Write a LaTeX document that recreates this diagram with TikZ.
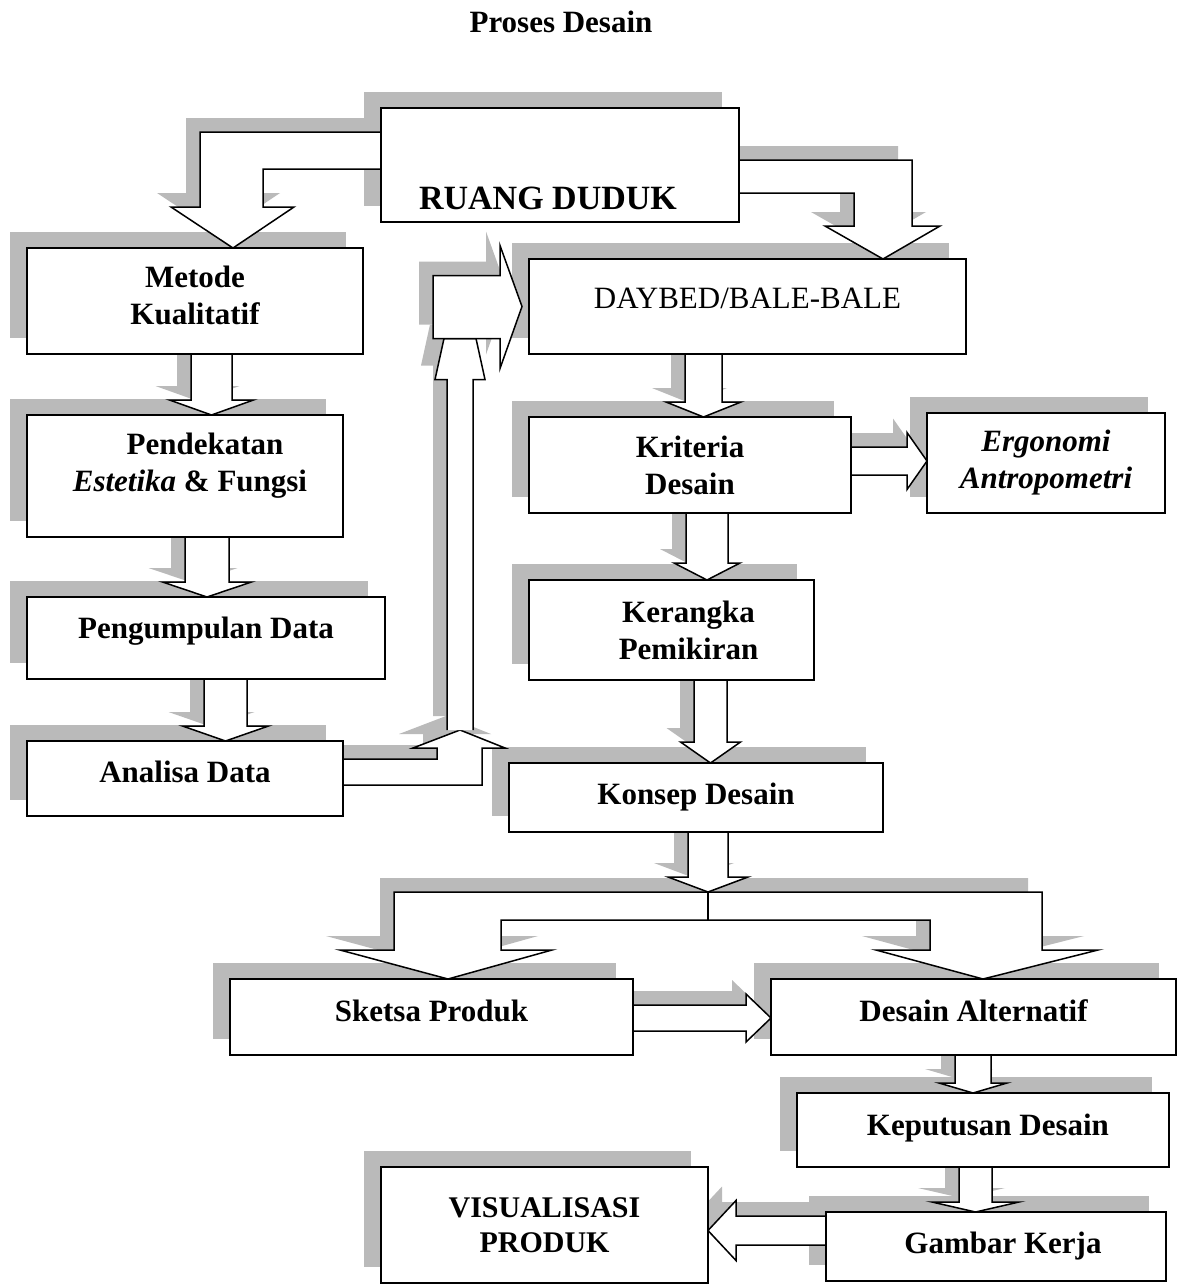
\documentclass[tikz,border=0pt]{standalone}
\usepackage{fontspec}
\setmainfont{Liberation Serif}
\usetikzlibrary{calc}
\pgfdeclarelayer{bgl}
\pgfdeclarelayer{shadowl}
\pgfdeclarelayer{arrl}
\pgfsetlayers{bgl,shadowl,arrl,main}

\tikzset{
  box/.style={draw, line width=1.6pt, fill=white, rectangle, inner sep=0pt, outer sep=0pt,
    align=center, font=\fontsize{31}{37}\selectfont\bfseries},
  arrbody/.style={draw, fill=white, line width=1.5pt, line join=miter},
  arrshadow/.style={fill=black!27},
  bshadow/.style={fill=black!27},
  pt0/.style={inner sep=0pt, outer sep=0pt, minimum size=0pt},
  tv/.style={text height=22pt, text depth=#1}
}

% all computed coordinates are canvas dimensions (picture y runs downwards, canvas y upwards)
% down block arrow: style, offset, from, to, centre x, half shaft, half head, head length
\newcommand\dnpath[8]{%
  \path[#1] let \p1=(#3.south), \p2=(#4.north),
     \n1={\y1+#2}, \n2={\y2+#2}, \n3={#5-#2} in
    ({(\n3-#6)*1pt},{\n1*1pt}) -- ({(\n3-#6)*1pt},{(\n2+#8)*1pt}) -- ({(\n3-#7)*1pt},{(\n2+#8)*1pt})
    -- ({\n3*1pt},{\n2*1pt}) -- ({(\n3+#7)*1pt},{(\n2+#8)*1pt}) -- ({(\n3+#6)*1pt},{(\n2+#8)*1pt})
    -- ({(\n3+#6)*1pt},{\n1*1pt});}
\newcommand\rtpath[8]{%
  \path[#1] let \p1=(#3.east), \p2=(#4.west), \n1={\x1-#2}, \n2={\x2-#2}, \n3={#5-#2} in
   ({\n1},{\n3-#6}) -- ({\n2-#8},{\n3-#6}) -- ({\n2-#8},{\n3-#7}) -- ({\n2},{\n3})
   -- ({\n2-#8},{\n3+#7}) -- ({\n2-#8},{\n3+#6}) -- ({\n1},{\n3+#6});}
\newcommand\ltpath[8]{%
  \path[#1] let \p1=(#3.west), \p2=(#4.east), \n1={\x1-#2}, \n2={\x2-#2}, \n3={#5-#2} in
   ({\n1},{\n3-#6}) -- ({\n2+#8},{\n3-#6}) -- ({\n2+#8},{\n3-#7}) -- ({\n2},{\n3})
   -- ({\n2+#8},{\n3+#7}) -- ({\n2+#8},{\n3+#6}) -- ({\n1},{\n3+#6});}
\newcommand\dnarr[6]{%
  \begin{pgfonlayer}{shadowl}\dnpath{arrshadow}{14}{#1}{#2}{#3}{#4}{#5}{#6}\end{pgfonlayer}%
  \begin{pgfonlayer}{arrl}\dnpath{arrbody}{0}{#1}{#2}{#3}{#4}{#5}{#6}\end{pgfonlayer}}
\newcommand\rtarr[6]{%
  \begin{pgfonlayer}{shadowl}\rtpath{arrshadow}{14}{#1}{#2}{#3}{#4}{#5}{#6}\end{pgfonlayer}%
  \begin{pgfonlayer}{arrl}\rtpath{arrbody}{0}{#1}{#2}{#3}{#4}{#5}{#6}\end{pgfonlayer}}
\newcommand\ltarr[6]{%
  \begin{pgfonlayer}{shadowl}\ltpath{arrshadow}{14}{#1}{#2}{#3}{#4}{#5}{#6}\end{pgfonlayer}%
  \begin{pgfonlayer}{arrl}\ltpath{arrbody}{0}{#1}{#2}{#3}{#4}{#5}{#6}\end{pgfonlayer}}
\newcommand\bshad[1]{%
  \begin{pgfonlayer}{shadowl}\fill[bshadow] ($(#1.south west)+(-17,-16)$) rectangle ($(#1.north east)+(-17,-16)$);\end{pgfonlayer}}

% complex arrows (canvas coordinates)
\newcommand\ruangmetodepath[2]{%
  \path[#1] let \p1=(ruang.west), \p2=(metode.north), \n1={\x1-#2}, \n2={\y1+#2}, \n3={\y2+#2}, \n4={#2} in
   ({\n1*1pt},{(\n2+33)*1pt}) -- ({(200-\n4)*1pt},{(\n2+33)*1pt}) -- ({(200-\n4)*1pt},{(\n3+41)*1pt})
   -- ({(171-\n4)*1pt},{(\n3+41)*1pt}) -- ({(233-\n4)*1pt},{\n3*1pt}) -- ({(294-\n4)*1pt},{(\n3+41)*1pt})
   -- ({(263-\n4)*1pt},{(\n3+41)*1pt}) -- ({(263-\n4)*1pt},{(\n2-4)*1pt}) -- ({\n1*1pt},{(\n2-4)*1pt});}
\newcommand\ruangdaybedpath[2]{%
  \path[#1] let \p1=(ruang.east), \p2=(daybed.north), \n1={\x1-#2}, \n2={\y1+#2}, \n3={\y2+#2}, \n4={#2} in
   ({\n1*1pt},{(\n2+5)*1pt}) -- ({(912-\n4)*1pt},{(\n2+5)*1pt}) -- ({(912-\n4)*1pt},{(\n3+33)*1pt})
   -- ({(940-\n4)*1pt},{(\n3+33)*1pt}) -- ({(883-\n4)*1pt},{\n3*1pt}) -- ({(825-\n4)*1pt},{(\n3+33)*1pt})
   -- ({(854-\n4)*1pt},{(\n3+33)*1pt}) -- ({(854-\n4)*1pt},{(\n2-28)*1pt}) -- ({\n1*1pt},{(\n2-28)*1pt});}
\newcommand\analisapath[2]{%
  \path[#1] let \p1=(analisa.east), \p2=(j1), \n1={\x1-#2}, \n2={\y1+#2}, \n3={\x2-#2}, \n4={\y2+#2} in
   ({\n1*1pt},{(\n2+19.5)*1pt}) -- ({(\n3-23)*1pt},{(\n2+19.5)*1pt}) -- ({(\n3-23)*1pt},{(\n4-18)*1pt})
   -- ({(\n3-47)*1pt},{(\n4-18)*1pt}) -- ({\n3*1pt},{\n4*1pt}) -- ({(\n3+45)*1pt},{(\n4-18)*1pt})
   -- ({(\n3+22)*1pt},{(\n4-18)*1pt}) -- ({(\n3+22)*1pt},{(\n2-6.5)*1pt}) -- ({\n1*1pt},{(\n2-6.5)*1pt});}
\newcommand\vertpath[2]{%
  \path[#1] let \p1=(j1), \p2=(j2), \n1={\x1-#2}, \n2={\y1+#2}, \n4={\y2+#2} in
   ({(\n1-13)*1pt},{\n2*1pt}) -- ({(\n1-13)*1pt},{(\n4-41)*1pt}) -- ({(\n1-25)*1pt},{(\n4-41)*1pt})
   -- ({(\n1-16)*1pt},{\n4*1pt}) -- ({(\n1+16)*1pt},{\n4*1pt}) -- ({(\n1+25)*1pt},{(\n4-41)*1pt})
   -- ({(\n1+13)*1pt},{(\n4-41)*1pt}) -- ({(\n1+13)*1pt},{\n2*1pt});}
\newcommand\topdaypath[2]{%
  \path[#1] let \p1=(j3), \p2=(daybed.west), \n1={\x1-#2}, \n2={\x2-7-#2}, \n3={\y2+#2} in
   ({\n1*1pt},{(\n3+31)*1pt}) -- ({(\n2-22)*1pt},{(\n3+31)*1pt}) -- ({(\n2-22)*1pt},{(\n3+61)*1pt})
   -- ({\n2*1pt},{\n3*1pt}) -- ({(\n2-22)*1pt},{(\n3-62)*1pt}) -- ({(\n2-22)*1pt},{(\n3-32)*1pt})
   -- ({\n1*1pt},{(\n3-32)*1pt}) -- cycle;}
\newcommand\splitpath[2]{%
  \path[#1] let \p1=(split), \p2=(sketsa.north), \p3=(desalt.north), \n2={\y1+#2},
     \n3={\y2+#2}, \n5={\y3+#2}, \n4={#2} in
   ({(394-\n4)*1pt},{\n2*1pt}) -- ({(1042-\n4)*1pt},{\n2*1pt}) -- ({(1042-\n4)*1pt},{(\n5+29)*1pt})
   -- ({(1098-\n4)*1pt},{(\n5+29)*1pt}) -- ({(983-\n4)*1pt},{\n5*1pt}) -- ({(876-\n4)*1pt},{(\n5+29)*1pt})
   -- ({(930-\n4)*1pt},{(\n5+29)*1pt}) -- ({(930-\n4)*1pt},{(\n2-28)*1pt}) -- ({(501-\n4)*1pt},{(\n2-28)*1pt})
   -- ({(501-\n4)*1pt},{(\n3+29)*1pt}) -- ({(552-\n4)*1pt},{(\n3+29)*1pt}) -- ({(448-\n4)*1pt},{\n3*1pt})
   -- ({(340-\n4)*1pt},{(\n3+29)*1pt}) -- ({(394-\n4)*1pt},{(\n3+29)*1pt}) -- cycle;}
\newcommand\twice[1]{%
  \begin{pgfonlayer}{shadowl}#1{arrshadow}{14}\end{pgfonlayer}%
  \begin{pgfonlayer}{arrl}#1{arrbody}{0}\end{pgfonlayer}}

\begin{document}
\begin{tikzpicture}[x=1pt,y=-1pt]
\begin{pgfonlayer}{bgl}
  \fill[white] (0,0) rectangle (1183,1285);
\end{pgfonlayer}
\useasboundingbox (0,0) rectangle (1183,1285);

\node[font=\fontsize{31}{37}\selectfont\bfseries] (title) at (561,22) {Proses Desain};

\node[box, minimum width=358pt, minimum height=114pt, font=\fontsize{34}{40}\selectfont\bfseries,
      text height=88pt, text depth=0pt] (ruang) at (560,165) {RUANG DUDUK\hspace*{24pt}};
\node[box, minimum width=336pt, minimum height=106pt, text height=46pt, text depth=0pt] (metode) at (195,301) {Metode\\Kualitatif};
\node[box, minimum width=316pt, minimum height=122pt, text height=30pt, text depth=0pt] (pend) at (185,476)
      {\hspace*{40pt}Pendekatan\\\hspace*{10pt}\textit{Estetika} \& Fungsi};
\node[box, minimum width=358pt, minimum height=82pt, tv=22pt] (peng) at (206,638) {Pengumpulan Data};
\node[box, minimum width=316pt, minimum height=75pt, tv=15pt] (analisa) at (185,778.5) {Analisa Data};
\node[box, minimum width=437pt, minimum height=95pt, font=\fontsize{31}{37}\selectfont,
      text height=20pt, text depth=17pt] (daybed) at (747.5,306.5) {DAYBED/BALE-BALE};
\node[box, minimum width=322pt, minimum height=96pt] (kriteria) at (690,465) {Kriteria\\Desain};
\node[box, minimum width=238pt, minimum height=100pt] (ergo) at (1046,463) {\textit{Ergonomi}\\\textit{Antropometri}};
\node[box, minimum width=285pt, minimum height=100pt] (kerangka) at (671.5,630)
      {\hspace*{34pt}Kerangka\\\hspace*{34pt}Pemikiran};
\node[box, minimum width=374pt, minimum height=69pt] (konsep) at (696,797.5) {Konsep Desain};
\node[box, minimum width=403pt, minimum height=76pt, tv=14pt] (sketsa) at (431.5,1017) {Sketsa Produk};
\node[box, minimum width=405pt, minimum height=76pt, tv=14pt] (desalt) at (973.5,1017) {Desain Alternatif};
\node[box, minimum width=372pt, minimum height=74pt, tv=12pt] (kep) at (983,1130) {\hspace*{10pt}Keputusan Desain};
\node[box, minimum width=340pt, minimum height=69pt] (gambar) at (996,1246.5) {\hspace*{14pt}Gambar Kerja};
\node[box, minimum width=327pt, minimum height=116pt, font=\fontsize{30}{35}\selectfont\bfseries]
      (vis) at (544.5,1225) {VISUALISASI\\PRODUK};

% junction points
\node[pt0] (j1) at (460,730) {};
\node[pt0] (j2) at (460,338.5) {};
\node[pt0] (j3) at (433,307) {};
\node[pt0] (split) at (708,892) {};

% box shadows
\foreach \b in {ruang,metode,pend,peng,analisa,daybed,kriteria,ergo,kerangka,konsep,sketsa,desalt,kep,gambar,vis}
  {\bshad{\b}}

% block arrows
\twice{\ruangmetodepath}
\twice{\ruangdaybedpath}
\dnarr{metode}{pend}{211.5}{20.5}{42}{15}
\dnarr{pend}{peng}{207}{22}{44.5}{15}
\dnarr{peng}{analisa}{225.5}{21.5}{43}{15}
\twice{\analisapath}
\twice{\vertpath}
\twice{\topdaypath}
\dnarr{daybed}{kriteria}{703.5}{18.5}{37.5}{15}
\rtarr{kriteria}{ergo}{461}{14}{28.5}{20}
\dnarr{kriteria}{kerangka}{707}{21}{33}{17}
\dnarr{kerangka}{konsep}{710.5}{16.5}{30}{21}
\twice{\splitpath}
\begin{pgfonlayer}{arrl}
  \draw[line width=1.5pt] (split) -- ++(0,28);
\end{pgfonlayer}
\dnarr{konsep}{split}{708}{20}{40}{15}
\rtarr{sketsa}{desalt}{1018}{13}{24}{25}
\dnarr{desalt}{kep}{973}{18}{34}{10}
\dnarr{kep}{gambar}{975.5}{16.5}{43.5}{10}
\ltarr{gambar}{vis}{1230.5}{14.5}{30}{28}
\end{tikzpicture}
\end{document}
